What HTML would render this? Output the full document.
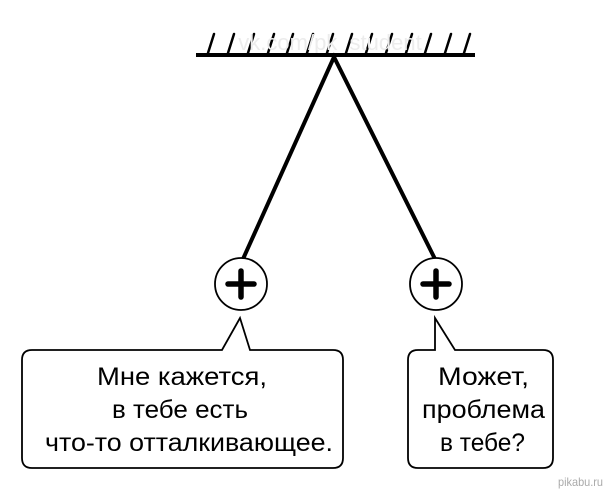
<!DOCTYPE html>
<html><head><meta charset="utf-8"><style>html,body{margin:0;padding:0;background:#fff;width:604px;height:492px;overflow:hidden}</style></head>
<body>
<svg width="604" height="492" viewBox="0 0 604 492" xmlns="http://www.w3.org/2000/svg">
<g stroke="#000" stroke-width="2.5" stroke-linecap="round">
<line x1="208" y1="53" x2="214" y2="34"/><line x1="228" y1="53" x2="234" y2="34"/><line x1="248" y1="53" x2="254" y2="34"/><line x1="268" y1="53" x2="274" y2="34"/><line x1="287" y1="53" x2="293" y2="34"/><line x1="307" y1="53" x2="313" y2="34"/><line x1="327" y1="53" x2="333" y2="34"/><line x1="346" y1="53" x2="352" y2="34"/><line x1="366" y1="53" x2="372" y2="34"/><line x1="386" y1="53" x2="392" y2="34"/><line x1="406" y1="53" x2="412" y2="34"/><line x1="425" y1="53" x2="431" y2="34"/><line x1="445" y1="53" x2="451" y2="34"/><line x1="464" y1="53" x2="470" y2="34"/>
</g>
<text x="330" y="50" font-family="Liberation Sans, sans-serif" font-size="22" fill="#ececec" text-anchor="middle">vk.com/pk_student</text>
<line x1="196" y1="55" x2="475" y2="55" stroke="#000" stroke-width="4"/>
<g stroke="#000" stroke-width="4" fill="none">
<polyline points="243,259 334,57 435,259"/>
</g>
<g stroke="#000" stroke-width="1.8" fill="#fff">
<circle cx="241" cy="284" r="26"/>
<circle cx="436" cy="284" r="26"/>
<path d="M32,350 H222 L240,318 L250,350 H333 Q343,350 343,360 V458 Q343,468 333,468 H32 Q22,468 22,458 V360 Q22,350 32,350 Z"/>
<path d="M418,350 H435 V318 L455,350 H543 Q553,350 553,360 V458 Q553,468 543,468 H418 Q408,468 408,458 V360 Q408,350 418,350 Z"/>
</g>
<g stroke="#000" stroke-width="5.5" stroke-linecap="round">
<line x1="228" y1="284" x2="254" y2="284"/><line x1="241" y1="271" x2="241" y2="297"/>
<line x1="423" y1="284" x2="449" y2="284"/><line x1="436" y1="271" x2="436" y2="297"/>
</g>
<g font-family="Liberation Sans, DejaVu Sans, sans-serif" font-size="25" fill="#000">
<text x="97" y="385" textLength="170" lengthAdjust="spacingAndGlyphs">Мне кажется,</text>
<text x="112" y="418" textLength="136" lengthAdjust="spacingAndGlyphs">в тебе есть</text>
<text x="45" y="451" textLength="288" lengthAdjust="spacingAndGlyphs">что-то отталкивающее.</text>
<text x="438" y="385" textLength="91" lengthAdjust="spacingAndGlyphs">Может,</text>
<text x="422" y="418" textLength="123" lengthAdjust="spacingAndGlyphs">проблема</text>
<text x="440" y="451" textLength="85" lengthAdjust="spacingAndGlyphs">в тебе?</text>
</g>
<text x="558" y="486" font-family="Liberation Sans, sans-serif" font-size="12" fill="#aaa" textLength="45" lengthAdjust="spacingAndGlyphs">pikabu.ru</text>
</svg>
</body></html>
